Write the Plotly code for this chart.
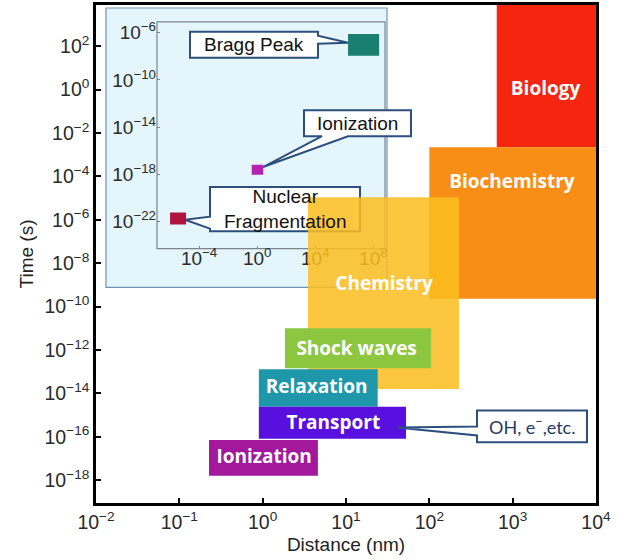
import plotly.graph_objects as go

# ---------------- data: main chart (distance in nm, time in s) ----------------
regions = ["Biology", "Biochemistry", "Chemistry", "Shock waves", "Relaxation", "Transport", "Ionization"]
dist_start = [644, 100, 3.5, 1.85, 0.9, 0.9, 0.227]
dist_end = [1e4, 1e4, 227, 105, 24, 52.5, 4.6]
time_start = [2.2e-3, 2.3e-10, 1.6e-14, 1.45e-13, 2.4e-15, 8.1e-17, 1.6e-18]
time_end = [1e4, 2.2e-3, 1.1e-5, 1e-11, 1.3e-13, 2.4e-15, 7.2e-17]
label_dist = [2480, 980, 28.6, 13.4, 4.45, 7.05, 1.04]
label_time = [0.9, 4.9e-5, 1.0e-9, 9.8e-13, 1.7e-14, 3.8e-16, 1.05e-17]
region_colors = ["#f4260f", "#f98e16", "rgba(252,190,32,0.86)", "#8dc63f",
                 "#1e97aa", "#5710de", "#a3199d"]

# ---------------- data: inset ----------------
inset_events = ["Bragg Peak", "Ionization", "Nuclear Fragmentation"]
inset_dist_start = [1.8e6, 0.42, 1.0e-6]
inset_dist_end = [2.5e8, 2.6, 1.26e-5]
inset_time_start = [1.1e-8, 9e-19, 5.5e-23]
inset_time_end = [8e-7, 6.3e-18, 5.8e-22]
inset_colors = ["#1b7f70", "#b322b3", "#b0143e"]

# ---------------- tick labels ----------------
main_x_tickvals = [1e-2, 1e-1, 1e0, 1e1, 1e2, 1e3, 1e4]
main_x_ticktext = ["10<sup>−2</sup>", "10<sup>−1</sup>", "10<sup>0</sup>", "10<sup>1</sup>",
                   "10<sup>2</sup>", "10<sup>3</sup>", "10<sup>4</sup>"]
main_y_tickvals = [1e-18, 1e-16, 1e-14, 1e-12, 1e-10, 1e-8, 1e-6, 1e-4, 1e-2, 1e0, 1e2]
main_y_ticktext = ["10<sup>−18</sup>", "10<sup>−16</sup>", "10<sup>−14</sup>", "10<sup>−12</sup>",
                   "10<sup>−10</sup>", "10<sup>−8</sup>", "10<sup>−6</sup>", "10<sup>−4</sup>",
                   "10<sup>−2</sup>", "10<sup>0</sup>", "10<sup>2</sup>"]
inset_x_tickvals = [1e-4, 1e0, 1e4, 1e8]
inset_x_ticktext = ["10<sup>−4</sup>", "10<sup>0</sup>", "10<sup>4</sup>", "10<sup>8</sup>"]
inset_y_tickvals = [1e-22, 1e-18, 1e-14, 1e-10, 1e-6]
inset_y_ticktext = ["10<sup>−22</sup>", "10<sup>−18</sup>", "10<sup>−14</sup>",
                    "10<sup>−10</sup>", "10<sup>−6</sup>"]

# ---------------- layout geometry ----------------
W, H = 630, 560
ML, MR, MT, MB = 96, 34, 2, 57
PW, PH = W - ML - MR, H - MT - MB


def pxx(x):
    return (x - ML) / PW


def pxy(y):
    return (H - MB - y) / PH


ARIAL = "Liberation Sans, Arial, sans-serif"

fig = go.Figure()

# inset subplot (drawn first, below main)
for name, x0, x1, t0, t1, c in zip(inset_events, inset_dist_start, inset_dist_end,
                                    inset_time_start, inset_time_end, inset_colors):
    fig.add_trace(go.Scatter(x=[x0, x1, x1, x0, x0], y=[t0, t0, t1, t1, t0],
                             fill="toself", fillcolor=c, mode="lines",
                             line=dict(width=0, color=c), name=name,
                             hoverinfo="name", showlegend=False,
                             xaxis="x", yaxis="y"))

# main regions
for name, x0, x1, t0, t1, c in zip(regions, dist_start, dist_end, time_start, time_end, region_colors):
    fig.add_trace(go.Scatter(x=[x0, x1, x1, x0, x0], y=[t0, t0, t1, t1, t0],
                             fill="toself", fillcolor=c, mode="lines",
                             line=dict(width=0, color="rgba(0,0,0,0)"), name=name,
                             hoverinfo="name", showlegend=False,
                             xaxis="x2", yaxis="y2"))

fig.add_trace(go.Scatter(x=label_dist, y=label_time, text=regions, mode="text",
                         textposition="middle center",
                         textfont=dict(family="Open Sans, sans-serif", size=19,
                                       color="white", weight="bold"),
                         hoverinfo="skip", showlegend=False, xaxis="x2", yaxis="y2"))

# ---------------- inset background / frame / callouts ----------------
inset_dom_x = [pxx(157), pxx(385)]
inset_dom_y = [pxy(247), pxy(19)]

shapes = [
    dict(type="rect", xref="paper", yref="paper", layer="below",
         x0=pxx(106), x1=pxx(387), y0=pxy(286), y1=pxy(5),
         fillcolor="#e4f6fb", line=dict(color="#7393b6", width=1.2)),
    dict(type="rect", xref="paper", yref="paper", layer="below",
         x0=inset_dom_x[0], x1=inset_dom_x[1], y0=inset_dom_y[0], y1=inset_dom_y[1],
         fillcolor="rgba(0,0,0,0)", line=dict(color="#7d848c", width=1.2)),
]

callouts = [
    dict(pts=[(190, 29), (318, 29), (318, 33), (348, 40), (318, 41), (318, 55), (190, 55)],
         text="Bragg Peak", cx=254, cy=42, layer="below", color="#111111", font=ARIAL, size=19),
    dict(pts=[(304, 108), (411, 108), (411, 134), (348, 134), (263, 165), (322, 134), (304, 134)],
         text="Ionization", cx=357.5, cy=121, layer="below", color="#111111", font=ARIAL, size=19),
    dict(pts=[(210, 185), (360, 185), (360, 229.5), (210, 229.5), (210, 227), (185, 218), (210, 215)],
         text="Nuclear<br>Fragmentation", cx=285, cy=207.5, layer="below", color="#111111",
         font=ARIAL, size=19),
    dict(pts=[(477, 410), (587, 410), (587, 442), (477, 442), (477, 435), (397, 427), (477, 426)],
         text="OH, e<sup>−</sup>,etc.", cx=532, cy=426, layer="above", color="#1f3a63",
         font="Lato, Open Sans, sans-serif", size=18),
]

annotations = []
for c in callouts:
    path = "M " + " L ".join(f"{pxx(x):.5f},{pxy(y):.5f}" for x, y in c["pts"]) + " Z"
    shapes.append(dict(type="path", xref="paper", yref="paper", layer=c["layer"], path=path,
                       fillcolor="white", line=dict(color="#2c4f7e", width=2)))
    annotations.append(dict(xref="paper", yref="paper", x=pxx(c["cx"]), y=pxy(c["cy"]),
                            text=c["text"], showarrow=False, xanchor="center", yanchor="middle",
                            font=dict(family=c["font"], size=c["size"], color=c["color"])))

main_axis_common = dict(type="log", showgrid=False, zeroline=False, showline=True, mirror=True,
                        linecolor="black", linewidth=2.5, ticks="inside", ticklen=5, tickwidth=2,
                        tickcolor="black", tickmode="array",
                        tickfont=dict(family=ARIAL, size=19.5, color="#2a2a2a"))
inset_axis_common = dict(type="log", showgrid=False, zeroline=False, showline=False,
                         ticks="inside", ticklen=3, tickwidth=1, tickcolor="#7d848c",
                         tickmode="array", tickfont=dict(family=ARIAL, size=19, color="#2a2a2a"))

fig.update_layout(
    width=W, height=H,
    margin=dict(l=ML, r=MR, t=MT, b=MB),
    paper_bgcolor="white", plot_bgcolor="rgba(0,0,0,0)",
    showlegend=False,
    xaxis=dict(domain=inset_dom_x, anchor="y", range=[-6.9, 8.8], ticklabelstandoff=-4,
               tickvals=inset_x_tickvals, ticktext=inset_x_ticktext, **inset_axis_common),
    yaxis=dict(domain=inset_dom_y, anchor="x", range=[-24.3, -5.08],
               tickvals=inset_y_tickvals, ticktext=inset_y_ticktext, **inset_axis_common),
    xaxis2=dict(domain=[0, 1], anchor="y2", range=[-2, 4],
                tickvals=main_x_tickvals, ticktext=main_x_ticktext,
                title=dict(text="Distance (nm)", font=dict(family=ARIAL, size=19, color="#222"),
                           standoff=6),
                **main_axis_common),
    yaxis2=dict(domain=[0, 1], anchor="x2", range=[-19.05, 3.9],
                tickvals=main_y_tickvals, ticktext=main_y_ticktext,
                title=dict(text="Time (s)", font=dict(family=ARIAL, size=19, color="#222"),
                           standoff=6),
                **main_axis_common),
    shapes=shapes,
    annotations=annotations,
)

fig.write_html("out.html", config={"displayModeBar": False},
               post_script="document.body.style.margin='0px';")
